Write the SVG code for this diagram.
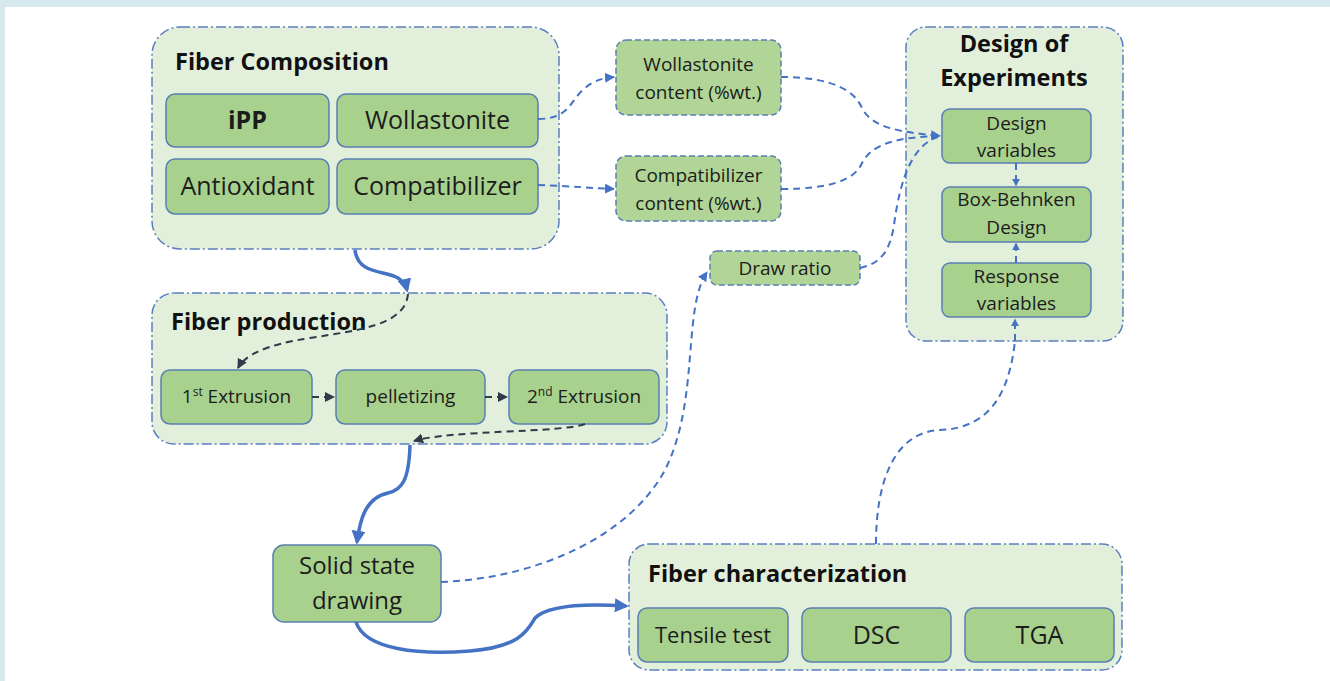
<svg xmlns="http://www.w3.org/2000/svg" width="1330" height="681" viewBox="0 0 1330 681">
<defs>
<style>
.cont{fill:#e2efda;stroke:#5b7fc0;stroke-width:1.5;stroke-dasharray:10 3 2 3}
.box{fill:#a9d18e;stroke:#5a7fb2;stroke-width:1.5}
.dbox{fill:#b1d596;stroke:#5a7fb2;stroke-width:1.5;stroke-dasharray:6 3}
.t{font-family:"Open Sans",Lato,sans-serif;fill:#1c1c1c;text-anchor:middle}
.title{font-family:"Open Sans",Lato,sans-serif;font-weight:bold;fill:#111;font-size:23.5px}
.c24{font-size:25px}
.c18{font-size:19px}
.bl{fill:none;stroke:#4472c4;stroke-width:2;stroke-dasharray:7 5}
.thick{fill:none;stroke:#4472c4;stroke-width:3.5}
.dk{fill:none;stroke:#2f3a4a;stroke-width:2;stroke-dasharray:7 5}
</style>
<marker id="ab" viewBox="0 0 10 10" refX="9" refY="5" markerWidth="5" markerHeight="5" orient="auto"><path d="M0,0 L10,5 L0,10 z" fill="#4472c4"/></marker>
<marker id="abt" viewBox="0 0 10 10" refX="8" refY="5" markerWidth="4" markerHeight="4" orient="auto"><path d="M0,0 L10,5 L0,10 z" fill="#4472c4"/></marker>
<marker id="ad" viewBox="0 0 10 10" refX="9" refY="5" markerWidth="5" markerHeight="5" orient="auto"><path d="M0,0 L10,5 L0,10 z" fill="#2f3a4a"/></marker>
</defs>
<rect x="0" y="0" width="1330" height="681" fill="#d5e9ef"/>
<rect x="5" y="7" width="1325" height="674" fill="#ffffff"/>

<g id="fiber-composition">
<rect class="cont" x="152" y="27" width="407" height="222" rx="28"/>
<text class="title" x="175" y="70">Fiber Composition</text>
<g id="ipp"><rect class="box" x="166" y="94" width="163" height="53" rx="9"/><text class="t c24" x="247.5" y="129" font-weight="bold">iPP</text></g>
<g id="wollastonite"><rect class="box" x="337" y="94" width="201" height="53" rx="9"/><text class="t c24" x="437.5" y="129">Wollastonite</text></g>
<g id="antioxidant"><rect class="box" x="166" y="159" width="163" height="55" rx="9"/><text class="t c24" x="247.5" y="195">Antioxidant</text></g>
<g id="compatibilizer"><rect class="box" x="337" y="159" width="201" height="55" rx="9"/><text class="t c24" x="437.5" y="195">Compatibilizer</text></g>
</g>

<g id="wollastonite-content"><rect class="dbox" x="616" y="40" width="165" height="75" rx="10"/><text class="t c18" x="698.5" y="71">Wollastonite</text><text class="t c18" x="698.5" y="99">content (%wt.)</text></g>
<g id="compatibilizer-content"><rect class="dbox" x="616" y="156" width="165" height="65" rx="10"/><text class="t c18" x="698.5" y="182">Compatibilizer</text><text class="t c18" x="698.5" y="210">content (%wt.)</text></g>
<g id="draw-ratio"><rect class="dbox" x="710" y="251" width="150" height="34" rx="7"/><text class="t c18" x="785" y="275">Draw ratio</text></g>

<g id="design-of-experiments">
<rect class="cont" x="906" y="27" width="217" height="314" rx="20"/>
<text class="title" x="1014" y="52" text-anchor="middle">Design of</text>
<text class="title" x="1014" y="86" text-anchor="middle">Experiments</text>
<g id="design-variables"><rect class="box" x="942" y="109" width="149" height="54" rx="8"/><text class="t c18" x="1016.5" y="130">Design</text><text class="t c18" x="1016.5" y="157">variables</text></g>
<g id="box-behnken"><rect class="box" x="942" y="187" width="149" height="55" rx="8"/><text class="t c18" x="1016.5" y="206">Box-Behnken</text><text class="t c18" x="1016.5" y="234">Design</text></g>
<g id="response-variables"><rect class="box" x="942" y="263" width="149" height="54" rx="8"/><text class="t c18" x="1016.5" y="283">Response</text><text class="t c18" x="1016.5" y="310">variables</text></g>
</g>

<g id="fiber-production">
<rect class="cont" x="152" y="293" width="515" height="151" rx="22"/>
<text class="title" x="171" y="330">Fiber production</text>
<g id="first-extrusion"><rect class="box" x="161" y="370" width="151" height="54" rx="9"/><text class="t c18" x="236.5" y="403">1<tspan font-size="12" dy="-7">st</tspan><tspan dy="7"> Extrusion</tspan></text></g>
<g id="pelletizing"><rect class="box" x="336" y="370" width="149" height="54" rx="9"/><text class="t c18" x="410.5" y="403">pelletizing</text></g>
<g id="second-extrusion"><rect class="box" x="509" y="370" width="150" height="54" rx="9"/><text class="t c18" x="584" y="403">2<tspan font-size="12" dy="-7">nd</tspan><tspan dy="7"> Extrusion</tspan></text></g>
</g>

<g id="solid-state-drawing"><rect class="box" x="273" y="545" width="168" height="77" rx="11"/><text class="t" font-size="24" x="357" y="574">Solid state</text><text class="t" font-size="24" x="357" y="609">drawing</text></g>

<g id="fiber-characterization">
<rect class="cont" x="629" y="544" width="493" height="126" rx="20"/>
<text class="title" x="648" y="582">Fiber characterization</text>
<g id="tensile"><rect class="box" x="638" y="608" width="150" height="54" rx="9"/><text class="t" font-size="22" x="713" y="643">Tensile  test</text></g>
<g id="dsc"><rect class="box" x="802" y="608" width="149" height="54" rx="9"/><text class="t c24" x="876.5" y="644">DSC</text></g>
<g id="tga"><rect class="box" x="965" y="608" width="149" height="54" rx="9"/><text class="t c24" x="1039.5" y="644">TGA</text></g>
</g>

<g id="connectors">
<path class="bl" d="M538,119 C570,119 570,100 585,88 C595,80 603,78 614,77" marker-end="url(#ab)"/>
<path class="bl" d="M538,185 C570,186 590,188 614,189" marker-end="url(#ab)"/>
<path class="bl" d="M781,77 C835,77 855,92 862,108 C872,128 900,132 940,136" marker-end="url(#ab)"/>
<path class="bl" d="M781,189 C830,189 855,180 862,163 C872,143 900,137 938,136"/>
<path class="bl" d="M860,268 C882,263 890,250 894,225 C900,180 912,145 938,137"/>
<path class="bl" d="M441,582 C540,578 630,535 665,470 C700,400 682,310 707,272" marker-end="url(#ab)"/>
<path class="bl" d="M876,544 C876,480 895,432 940,430 C995,428 1010,385 1015,341" />
<path class="bl" d="M1015,341 L1015,320" marker-end="url(#abt)" stroke-dasharray="none"/>
<path class="bl" d="M1016,163 L1016,185" marker-end="url(#abt)" stroke-dasharray="4 3"/>
<path class="bl" d="M1016,263 L1016,244" marker-end="url(#abt)" stroke-dasharray="4 3"/>
<path class="thick" d="M355,250 C358,275 385,270 398,278 C404,282 406,286 407,290" marker-end="url(#abt)"/>
<path class="dk" d="M408,294 C405,325 360,330 310,338 C265,345 245,355 238,368" marker-end="url(#ad)"/>
<path class="dk" d="M312,397 L334,397" marker-end="url(#ad)" stroke-dasharray="6 4"/>
<path class="dk" d="M485,397 L507,397" marker-end="url(#ad)" stroke-dasharray="6 4"/>
<path class="dk" d="M585,424 C560,433 450,430 414,441" marker-end="url(#ad)"/>
<path class="thick" d="M410,445 C409,480 402,490 388,493 C365,498 360,520 357,542" marker-end="url(#abt)"/>
<path class="thick" d="M356,622 C365,650 420,655 470,651 C520,647 528,630 535,618 C550,603 595,604 626,606" marker-end="url(#abt)"/>
</g>
</svg>
